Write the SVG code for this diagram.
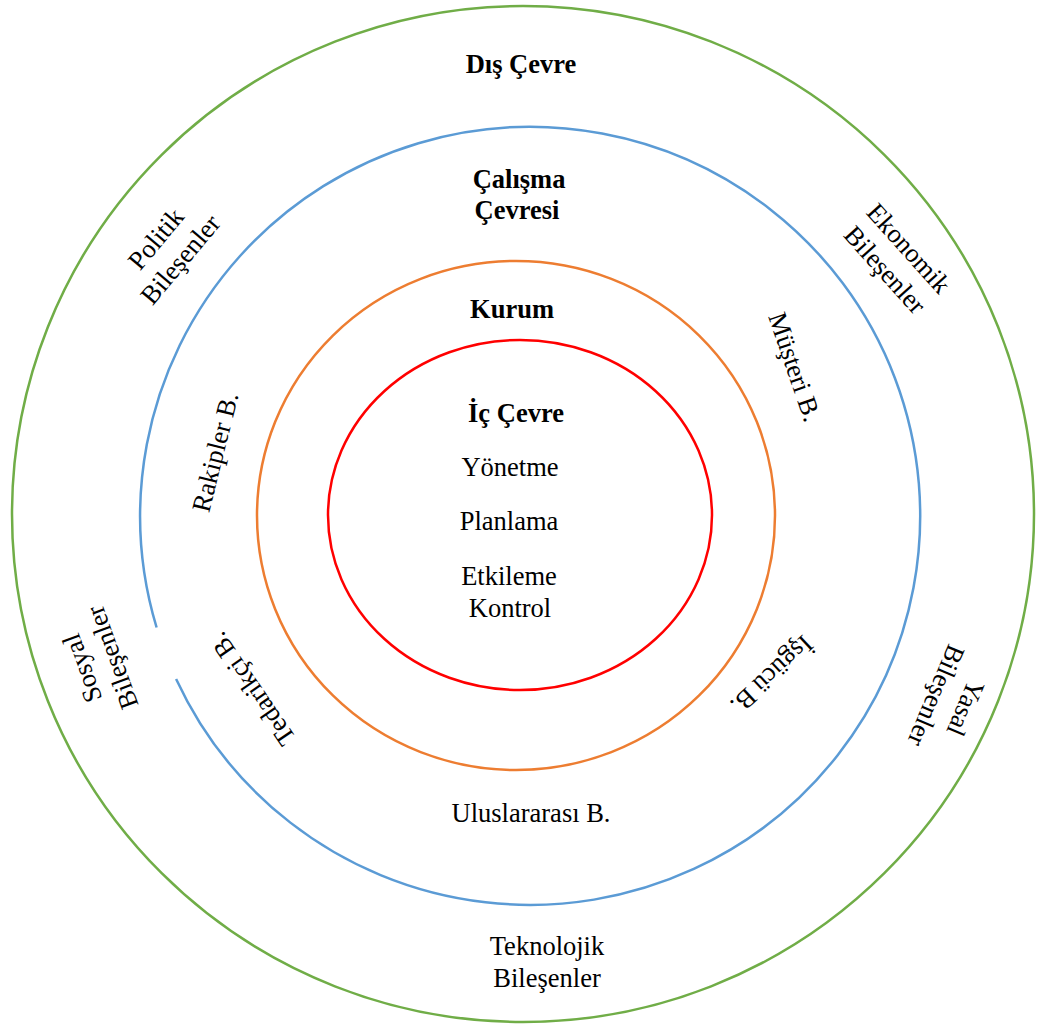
<svg xmlns="http://www.w3.org/2000/svg" width="1046" height="1028" viewBox="0 0 1046 1028">
  <style>
    .ring { fill: none; stroke-width: 2.5; }
    .t { font-family: "Liberation Serif", "Times New Roman", serif; font-size: 26.5px; fill: #000; text-anchor: middle; }
    .b { font-weight: bold; }
  </style>
  <rect width="1046" height="1028" fill="#fff"/>

  <!-- concentric environment rings -->
  <g id="rings">
    <ellipse id="dis-cevre-ring" class="ring" cx="523" cy="514" rx="511" ry="508" stroke="#70AD47"/>
    <!-- working environment ring, open on the lower left -->
    <path id="calisma-ring" class="ring" stroke="#5B9BD5" d="M 176.1 678.9 A 390 389 0 1 0 156.6 627.5"/>
    <ellipse id="kurum-ring" class="ring" cx="516" cy="515.5" rx="259" ry="254.5" stroke="#ED7D31"/>
    <ellipse id="ic-cevre-ring" class="ring" cx="520" cy="515" rx="192" ry="175" stroke="#FF0000"/>
  </g>

  <!-- ring titles -->
  <g id="dis-cevre"><text class="t b" x="521" y="73">Dış Çevre</text></g>
  <g id="calisma-cevresi">
    <text class="t b" x="519" y="188">Çalışma</text>
    <text class="t b" x="517" y="219">Çevresi</text>
  </g>
  <g id="kurum"><text class="t b" x="512" y="318">Kurum</text></g>
  <g id="ic-cevre">
    <text class="t b" x="516" y="422">İç Çevre</text>
    <text class="t" x="510" y="476">Yönetme</text>
    <text class="t" x="509" y="530">Planlama</text>
    <text class="t" x="509" y="585">Etkileme</text>
    <text class="t" x="510" y="617">Kontrol</text>
  </g>

  <!-- outer ring components -->
  <g id="politik" transform="translate(168,249) rotate(-50)">
    <text class="t" x="0" y="-7">Politik</text>
    <text class="t" x="0" y="25">Bileşenler</text>
  </g>
  <g id="ekonomik" transform="translate(897,259) rotate(48)">
    <text class="t" x="0" y="-7">Ekonomik</text>
    <text class="t" x="0" y="25">Bileşenler</text>
  </g>
  <g id="sosyal" transform="translate(97,663) rotate(-110)">
    <text class="t" x="0" y="-7">Sosyal</text>
    <text class="t" x="0" y="25">Bileşenler</text>
  </g>
  <g id="yasal" transform="translate(951,702) rotate(113)">
    <text class="t" x="0" y="-7">Yasal</text>
    <text class="t" x="0" y="25">Bileşenler</text>
  </g>
  <g id="teknolojik">
    <text class="t" x="547" y="955">Teknolojik</text>
    <text class="t" x="547" y="987">Bileşenler</text>
  </g>

  <!-- working environment components -->
  <g id="musteri" transform="translate(795,367) rotate(71)"><text class="t" x="0" y="9">Müşteri B.</text></g>
  <g id="rakipler" transform="translate(215,452) rotate(-76)"><text class="t" x="0" y="9">Rakipler B.</text></g>
  <g id="tedarikci" transform="translate(252,689) rotate(235.5)"><text class="t" x="0" y="9">Tedarikçi B.</text></g>
  <g id="isgucu" transform="translate(772,675) rotate(137)"><text class="t" x="0" y="9">İşgücü B.</text></g>
  <g id="uluslararasi"><text class="t" x="531" y="822">Uluslararası B.</text></g>

  <g id="connectors"></g>
</svg>
